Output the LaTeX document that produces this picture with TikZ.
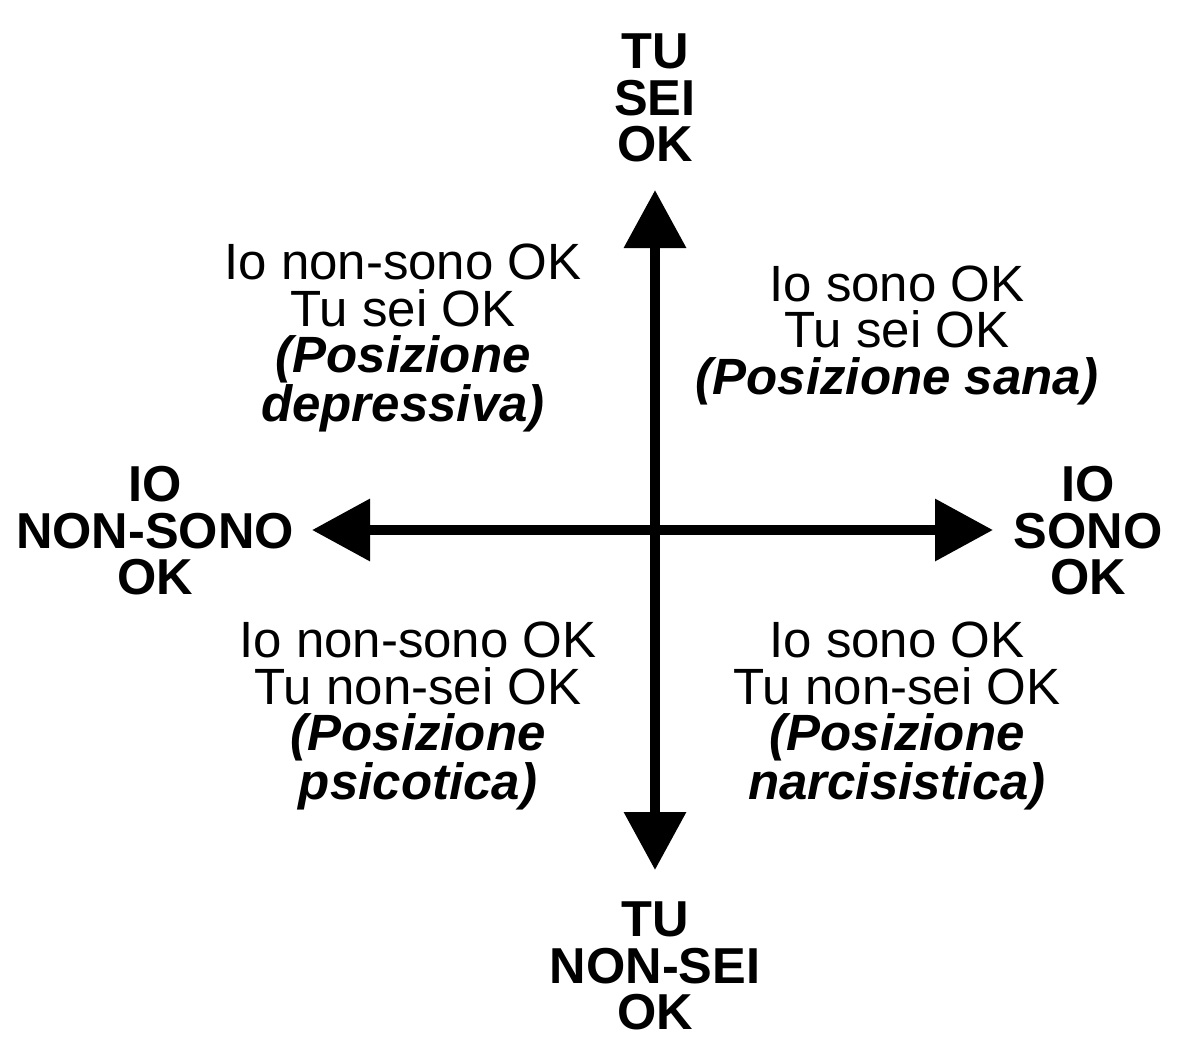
\documentclass[tikz,border=0pt]{standalone}
\usepackage{fontspec}
\setmainfont{Liberation Sans}
\usetikzlibrary{arrows.meta}
\begin{document}
\begin{tikzpicture}[x=1pt,y=-1pt,
  axislabel/.style={align=center,inner sep=0pt,font=\fontsize{50.5}{46.5}\selectfont\bfseries},
  quad/.style={align=center,inner sep=0pt,font=\fontsize{51}{46.5}\selectfont},
  axis/.style={line width=10pt,{Triangle[width=60pt,length=58pt]}-{Triangle[width=60pt,length=58pt]}}]
\useasboundingbox (0,0) rectangle (1180,1060);
\coordinate (top) at (655,190);
\coordinate (bot) at (655,870);
\coordinate (lft) at (312,530);
\coordinate (rgt) at (993,530);
\draw[axis] (bot) -- (top);
\draw[axis] (lft) -- (rgt);
\node[axislabel] (tusei) at (655,98) {TU\\SEI\\OK};
\node[axislabel] (ionon) at (155,531) {IO\\NON-SONO\\OK};
\node[axislabel] (iosono) at (1088,531) {IO\\SONO\\OK};
\node[axislabel] (tunon) at (655,966) {TU\\NON-SEI\\OK};
\node[quad] (q1) at (403,338) {Io non-sono OK\\Tu sei OK\\\textbf{\textit{(Posizione}}\\\textbf{\textit{depressiva)}}};
\node[quad] (q2) at (897,335) {Io sono OK\\Tu sei OK\\\textbf{\textit{(Posizione sana)}}};
\node[quad] (q3) at (418,716) {Io non-sono OK\\Tu non-sei OK\\\textbf{\textit{(Posizione}}\\\textbf{\textit{psicotica)}}};
\node[quad] (q4) at (897,716) {Io sono OK\\Tu non-sei OK\\\textbf{\textit{(Posizione}}\\\textbf{\textit{narcisistica)}}};
\end{tikzpicture}
\end{document}
